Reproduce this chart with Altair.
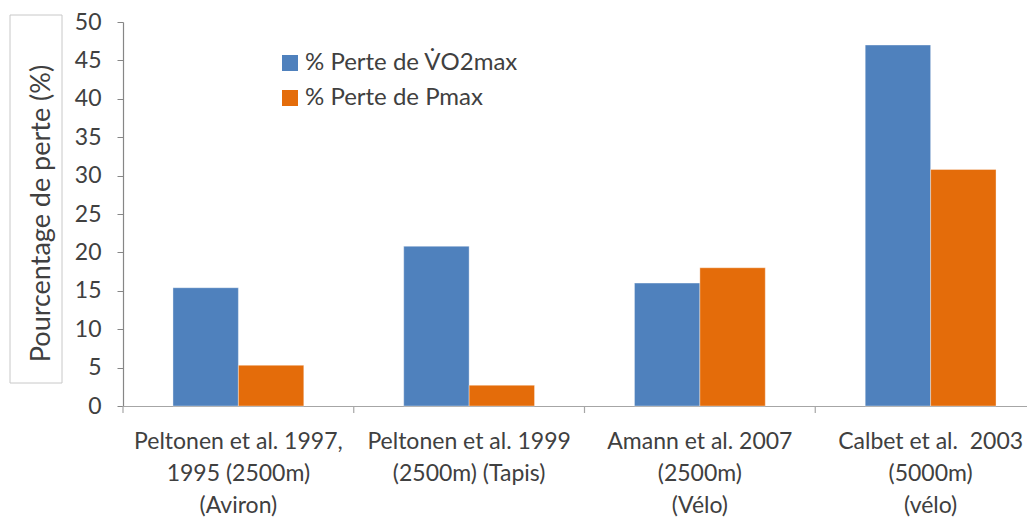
import altair as alt
import pandas as pd

categories = [
    "Peltonen et al. 1997,|1995 (2500m)|(Aviron)",
    "Peltonen et al. 1999|(2500m) (Tapis)",
    "Amann et al. 2007|(2500m)|(Vélo)",
    "Calbet et al.\u00a0 2003|(5000m)|(vélo)",
]
series = ["% Perte de V\u0307O2max", "% Perte de Pmax"]
vo2_loss = [15.4, 20.8, 16.0, 47.0]
pmax_loss = [5.3, 2.7, 18.0, 30.8]
y_ticks = [0, 5, 10, 15, 20, 25, 30, 35, 40, 45, 50]
colors = ["#4f81bd", "#e46c0a"]

rows = []
for c, a, b in zip(categories, vo2_loss, pmax_loss):
    rows.append({"cat": c, "serie": series[0], "val": a})
    rows.append({"cat": c, "serie": series[1], "val": b})
df = pd.DataFrame(rows)

W, H = 904, 384
xscale = alt.Scale(domain=categories, range=[0, 923], paddingInner=0, paddingOuter=0)
xaxis = alt.Axis(title=None, labelExpr="split(datum.value, '|')", labelAngle=0,
                 ticks=False, labelFont="Lato",
                 labelFontSize=23, labelColor="#404040", labelPadding=24,
                 labelLineHeight=32, domainColor="#a6a6a6", domainWidth=1.2,
                 labelBaseline="top", labelLimit=400)

bars = alt.Chart(df).mark_bar(stroke="#ffffff", strokeWidth=0.6, strokeOpacity=0.6).encode(
    x=alt.X("cat:N", sort=categories, scale=xscale, axis=xaxis),
    xOffset=alt.XOffset("serie:N", sort=series,
                        scale=alt.Scale(domain=series, paddingInner=0, paddingOuter=0.764)),
    y=alt.Y("val:Q", scale=alt.Scale(domain=[0, 50], nice=False),
            axis=alt.Axis(values=y_ticks, title="Pourcentage de perte (%)", grid=False,
                          labelFont="Lato", labelFontSize=23, labelColor="#404040",
                          labelPadding=16, tickSize=6, tickColor="#868686",
                          domainColor="#868686", domainWidth=1.2,
                          titleFont="Lato", titleFontSize=27, titleFontWeight="normal",
                          titleColor="#404040", titleX=-82, titleY=191,
                          titleAlign="center", titleBaseline="middle", titleAngle=270)),
    color=alt.Color("serie:N", sort=series, scale=alt.Scale(domain=series, range=colors),
                    legend=alt.Legend(title=None, orient="none", legendX=155, legendY=29,
                                      symbolType="square", symbolSize=256, symbolStrokeWidth=0,
                                      labelFont="Lato", labelFontSize=24, labelColor="#404040",
                                      labelOffset=3, rowPadding=11, labelLimit=400)),
)

xticks = alt.Chart(df[df["serie"] == series[0]]).mark_rule(color="#a6a6a6", strokeWidth=1.2).encode(
    x=alt.X("cat:N", sort=categories, scale=xscale, bandPosition=0),
    y=alt.value(H),
    y2=alt.value(H + 7),
)

box = alt.Chart(df.head(1)).mark_rect(fill=None, stroke="#c8c8c8", strokeWidth=1).encode(
    x=alt.value(-113), x2=alt.value(-61), y=alt.value(-7), y2=alt.value(361),
)

chart = alt.layer(box, bars, xticks).properties(
    width=W, height=H,
    autosize=alt.AutoSizeParams(type="none"),
    padding={"left": 115, "top": 14, "right": 0, "bottom": 112},
).configure_view(stroke=None)

chart.save("out.html", embed_options={"renderer": "svg", "actions": False})
